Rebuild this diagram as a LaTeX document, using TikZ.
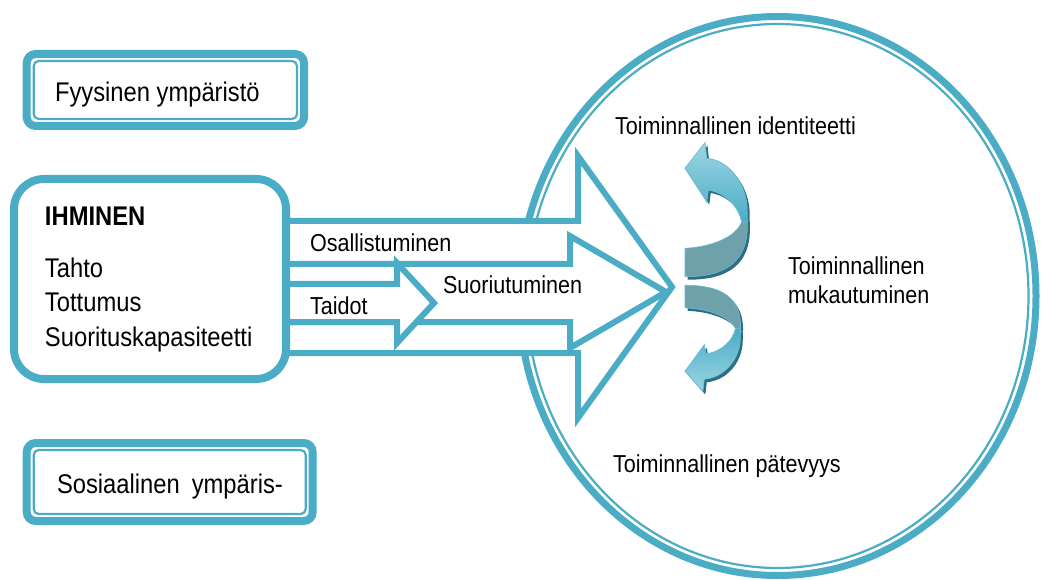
\documentclass[tikz,border=0pt]{standalone}
\usepackage{fontspec}
\setmainfont{Liberation Sans}[FakeStretch=0.88]
\usetikzlibrary{shapes.geometric}
\definecolor{teal1}{HTML}{4BACC6}
\definecolor{teal2}{HTML}{6BBDD3}
\definecolor{calight}{HTML}{9DD5E3}
\definecolor{grayband}{HTML}{6FA1AA}
\definecolor{cashadow}{HTML}{2C6F82}
\newcommand\CAfront[1]{\path[#1] (21.7,158.3) .. controls (42,160) and (60,180) .. (62,207) -- (62.3,222) -- (56.7,222) .. controls (54,208) and (42,193) .. (23.3,190) -- (21.7,201.7) -- (0,168.3) -- (20,142.7) -- cycle;}
\newcommand\CAback[1]{\path[#1] (0,248.3) .. controls (25,247) and (50,238) .. (56.7,222) -- (62.3,222) .. controls (64,262) and (40,277) .. (0,276.7) -- cycle;}
\begin{document}
\begin{tikzpicture}[x=1pt,y=-1pt,
  dbox/.style={draw=teal1, line width=8pt, inner sep=0pt, outer sep=0pt, fill=white},
  thinline/.style={draw=teal1, line width=2.2pt},
  arrowbox/.style={draw=teal1, line width=6pt, fill=white, line join=miter},
  lblbig/.style={anchor=base west, inner sep=0pt, outer sep=0pt, font=\fontsize{27pt}{34pt}\selectfont},
  lbl/.style={anchor=base west, inner sep=0pt, outer sep=0pt, font=\fontsize{24.5pt}{28pt}\selectfont}]
\useasboundingbox (0,0) rectangle (1042,580);

% circle
\node[ellipse, draw=teal1, line width=7pt, minimum width=517pt, minimum height=559pt, inner sep=0pt, outer sep=0pt] (circ) at (777.5,296) {};
\draw[thinline] (circ.center) ellipse [x radius=251pt, y radius=272pt];

% block arrows
\draw[arrowbox] (286,221) -- (578,221) -- (578,156) -- (672,287) -- (578,418) -- (578,353) -- (286,353);
\draw[arrowbox] (286,264) -- (570,264) -- (570,236) -- (666,292) -- (570,348) -- (570,322) -- (286,322);
\draw[arrowbox] (286,284) -- (397,284) -- (397,263) -- (434,303) -- (397,343) -- (397,322) -- (286,322);

% boxes
\node[dbox, rounded corners=9pt, minimum width=277.3pt, minimum height=72pt] (fyys) at (165.35,90) {};
\draw[thinline, rounded corners=5pt] ([shift={(7,7)}]fyys.north west) rectangle ([shift={(-7,-7)}]fyys.south east);
\node[dbox, rounded corners=9pt, minimum width=286pt, minimum height=78pt] (sos) at (169.7,482) {};
\draw[thinline, rounded corners=5pt] ([shift={(7,7)}]sos.north west) rectangle ([shift={(-7,-7)}]sos.south east);
\node[dbox, rounded corners=30pt, minimum width=272pt, minimum height=200pt] (ihm) at (150,279) {};

% texts
\node[lblbig] (tfyys) at (55,102) {Fyysinen ympäristö};
\node[lblbig] (tsos) at (57,493) {Sosiaalinen\hspace{12pt}ympäris-};
\node[lblbig, font=\fontsize{27pt}{34pt}\selectfont\bfseries] (tihm) at (45,226) {IHMINEN};
\node[lblbig] (ttahto) at (45,278) {Tahto};
\node[lblbig] (ttott) at (45,312) {Tottumus};
\node[lblbig] (tsuor) at (45,346) {Suorituskapasiteetti};
\node[lbl] (tosal) at (310,252) {Osallistuminen};
\node[lbl] (ttaid) at (310,315) {Taidot};
\node[lbl] (tsuoriu) at (443,294) {Suoriutuminen};
\node[lbl] (tident) at (615,135) {Toiminnallinen identiteetti};
\node[lbl] (tmuk1) at (788,275) {Toiminnallinen};
\node[lbl] (tmuk2) at (788,303) {mukautuminen};
\node[lbl] (tpat) at (613,472) {Toiminnallinen pätevyys};

% curved arrows: upper
\begin{scope}[shift={(687.5,3)}]
  \CAfront{fill=cashadow}
  \CAback{fill=cashadow}
\end{scope}
\begin{scope}[shift={(685,0)}]
  \CAback{fill=grayband, draw=teal2, line width=0.6pt}
  \CAfront{top color=calight, bottom color=teal1, draw=teal2, line width=0.8pt}
\end{scope}
% curved arrows: lower
\begin{scope}[shift={(687.5,507.7)}, xscale=0.89, yscale=-0.793]
  \CAfront{fill=cashadow}
  \CAback{fill=cashadow}
\end{scope}
\begin{scope}[shift={(685,504.7)}, xscale=0.89, yscale=-0.793]
  \CAback{fill=grayband, draw=teal2, line width=0.6pt}
  \CAfront{top color=teal1, bottom color=calight, draw=teal2, line width=0.8pt}
\end{scope}
\end{tikzpicture}
\end{document}
